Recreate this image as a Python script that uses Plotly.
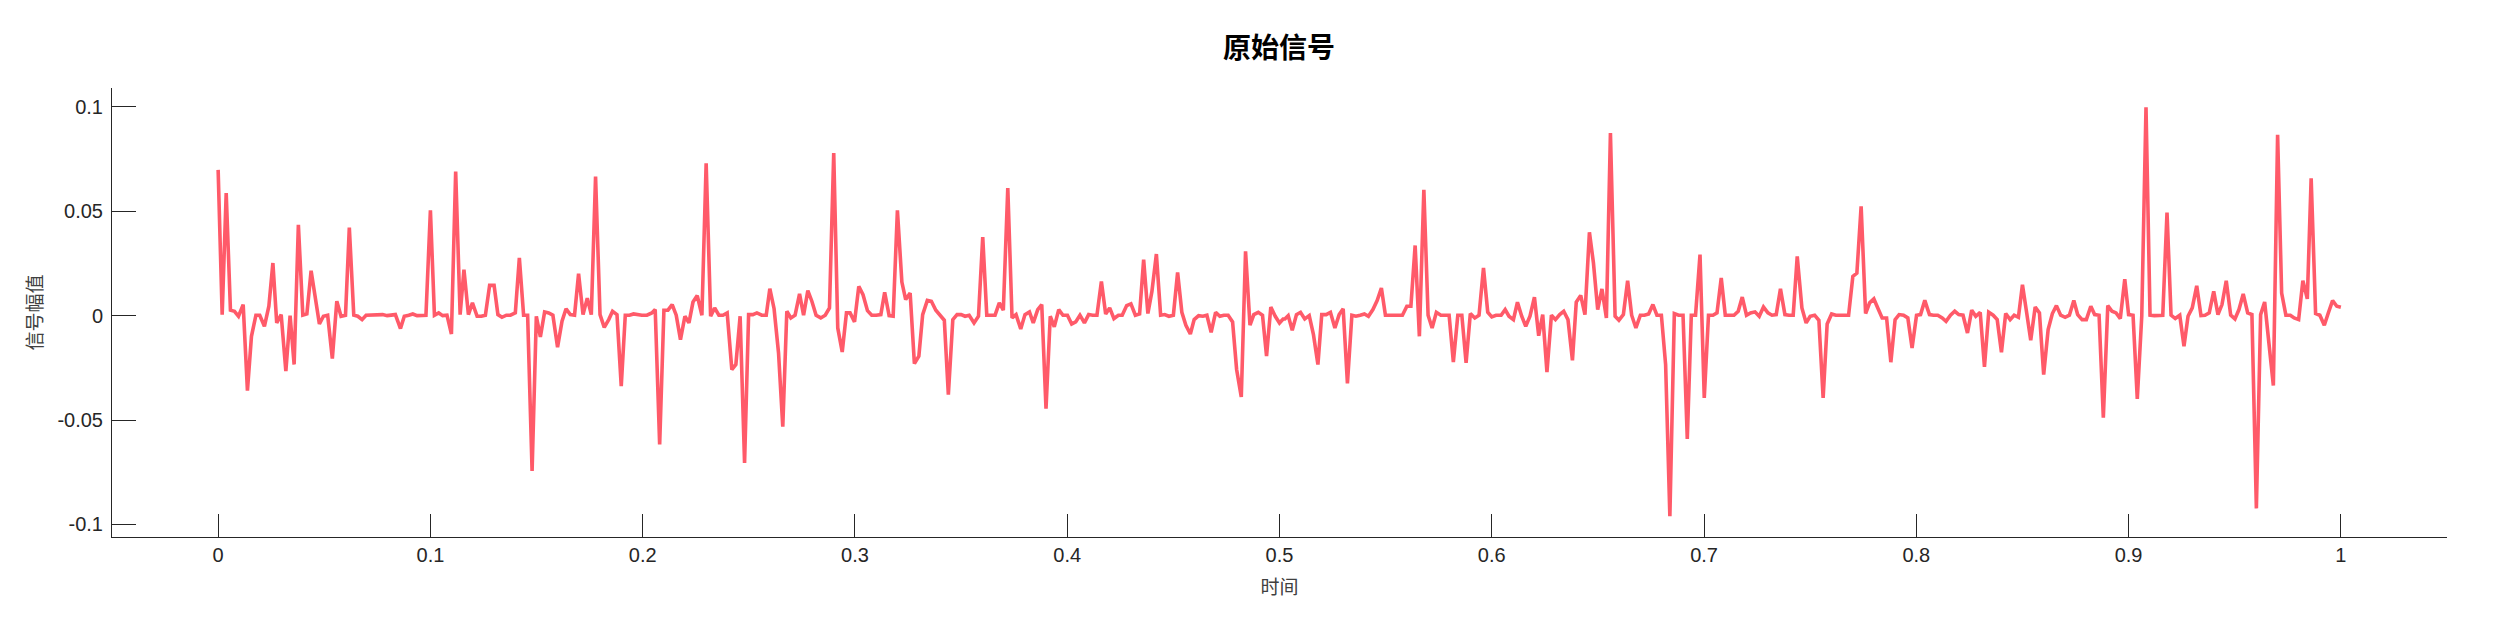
import plotly.graph_objects as go

# ---- data (time, amplitude vertices) ----
time_s = [
    0.0000, 0.0019, 0.0038, 0.0058, 0.0077, 0.0096, 0.0118, 0.0138, 0.0157, 0.0178,
    0.0196, 0.0218, 0.0239, 0.0258, 0.0276, 0.0297, 0.0319, 0.0339, 0.0358, 0.0378,
    0.0399, 0.0418, 0.0438, 0.0457, 0.0477, 0.0496, 0.0516, 0.0538, 0.0559, 0.0579,
    0.0600, 0.0618, 0.0639, 0.0658, 0.0678, 0.0697, 0.0717, 0.0736, 0.0757, 0.0775,
    0.0796, 0.0815, 0.0835, 0.0859, 0.0877, 0.0898, 0.0917, 0.0937, 0.0961,
    0.0979, 0.1000, 0.1019, 0.1039, 0.1058, 0.1078, 0.1099, 0.1119, 0.1140, 0.1158,
    0.1179, 0.1198, 0.1220, 0.1240, 0.1259, 0.1279, 0.1300, 0.1318, 0.1337, 0.1358,
    0.1377, 0.1400, 0.1419, 0.1439, 0.1458, 0.1479, 0.1499, 0.1518, 0.1538, 0.1557,
    0.1577, 0.1599, 0.1620, 0.1639, 0.1659, 0.1679, 0.1698, 0.1719, 0.1739, 0.1758,
    0.1778, 0.1799, 0.1819, 0.1840, 0.1858, 0.1879, 0.1899, 0.1918, 0.1938, 0.1957,
    0.1981,
    0.1996, 0.2020, 0.2043, 0.2059, 0.2080, 0.2100, 0.2119, 0.2139, 0.2158, 0.2178,
    0.2199, 0.2218, 0.2237, 0.2257, 0.2279, 0.2299, 0.2320, 0.2339, 0.2359, 0.2378,
    0.2398, 0.2420, 0.2439, 0.2459, 0.2480, 0.2499, 0.2519, 0.2538, 0.2561, 0.2582,
    0.2599, 0.2619, 0.2640, 0.2660, 0.2679, 0.2698, 0.2718, 0.2739, 0.2758, 0.2778,
    0.2797, 0.2817, 0.2839, 0.2860, 0.2880, 0.2900, 0.2919, 0.2940, 0.2960, 0.2977,
    0.2993,
    0.2998, 0.3018, 0.3038, 0.3059, 0.3079, 0.3100, 0.3122, 0.3140, 0.3161, 0.3180,
    0.3200, 0.3221, 0.3239, 0.3260, 0.3280, 0.3301, 0.3319, 0.3341, 0.3360, 0.3381,
    0.3401, 0.3421, 0.3440, 0.3461, 0.3481, 0.3500, 0.3519, 0.3538, 0.3561, 0.3582,
    0.3602, 0.3621, 0.3641, 0.3660, 0.3680, 0.3699, 0.3720, 0.3740, 0.3759, 0.3781,
    0.3801, 0.3822, 0.3840, 0.3861, 0.3880, 0.3900, 0.3920, 0.3939, 0.3960, 0.3980,
    0.4001,
    0.4021, 0.4040, 0.4060, 0.4081, 0.4101, 0.4120, 0.4140, 0.4161, 0.4181, 0.4200,
    0.4220, 0.4241, 0.4259, 0.4280, 0.4300, 0.4321, 0.4341, 0.4360, 0.4380, 0.4399,
    0.4420, 0.4440, 0.4459, 0.4479, 0.4500, 0.4520, 0.4540, 0.4559, 0.4580, 0.4598,
    0.4619, 0.4639, 0.4658, 0.4678, 0.4699, 0.4719, 0.4738, 0.4758, 0.4779, 0.4798,
    0.4820, 0.4840, 0.4861, 0.4879, 0.4900, 0.4920, 0.4939, 0.4959, 0.4980, 0.5000,
    0.5017,
    0.5025, 0.5041, 0.5060, 0.5080, 0.5099, 0.5119, 0.5140, 0.5160, 0.5181, 0.5199,
    0.5220, 0.5240, 0.5261, 0.5281, 0.5300, 0.5320, 0.5341, 0.5360, 0.5380, 0.5400,
    0.5419, 0.5440, 0.5460, 0.5480, 0.5499, 0.5520, 0.5539, 0.5559, 0.5579, 0.5600,
    0.5619, 0.5639, 0.5659, 0.5680, 0.5700, 0.5719, 0.5739, 0.5760, 0.5779, 0.5799,
    0.5819, 0.5840, 0.5859, 0.5879, 0.5899, 0.5920, 0.5940, 0.5961, 0.5981, 0.6000,
    0.6020,
    0.6044, 0.6063, 0.6081, 0.6102, 0.6121, 0.6141, 0.6160, 0.6180, 0.6201, 0.6221,
    0.6240, 0.6260, 0.6281, 0.6300, 0.6320, 0.6339, 0.6359, 0.6380, 0.6398, 0.6419,
    0.6439, 0.6460, 0.6479, 0.6499, 0.6519, 0.6540, 0.6559, 0.6581, 0.6599, 0.6620,
    0.6640, 0.6659, 0.6679, 0.6700, 0.6719, 0.6739, 0.6759, 0.6778, 0.6799, 0.6819,
    0.6839, 0.6860, 0.6880, 0.6901, 0.6921, 0.6940, 0.6960, 0.6981, 0.7001, 0.7021,
    0.7042,
    0.7061, 0.7081, 0.7100, 0.7120, 0.7141, 0.7161, 0.7180, 0.7200, 0.7219, 0.7240,
    0.7260, 0.7280, 0.7301, 0.7320, 0.7340, 0.7360, 0.7381, 0.7400, 0.7420, 0.7439,
    0.7461, 0.7481, 0.7500, 0.7521, 0.7541, 0.7561, 0.7580, 0.7601, 0.7621, 0.7640,
    0.7660, 0.7681, 0.7701, 0.7720, 0.7740, 0.7761, 0.7780, 0.7800, 0.7820, 0.7839,
    0.7860, 0.7880, 0.7900, 0.7919, 0.7940, 0.7960, 0.7980, 0.8001, 0.8020, 0.8040,
    0.8054,
    0.8062, 0.8081, 0.8101, 0.8122, 0.8140, 0.8161, 0.8181, 0.8200, 0.8220, 0.8241,
    0.8261, 0.8280, 0.8301, 0.8321, 0.8341, 0.8362, 0.8381, 0.8401, 0.8421, 0.8442,
    0.8461, 0.8481, 0.8500, 0.8520, 0.8539, 0.8560, 0.8580, 0.8600, 0.8621, 0.8641,
    0.8660, 0.8680, 0.8701, 0.8721, 0.8742, 0.8760, 0.8781, 0.8801, 0.8822, 0.8840,
    0.8861, 0.8881, 0.8902, 0.8922, 0.8941, 0.8961, 0.8982, 0.9000, 0.9021, 0.9041,
    0.9062, 0.9082, 0.9101, 0.9121, 0.9140, 0.9161, 0.9181, 0.9200, 0.9220, 0.9241,
    0.9261, 0.9280, 0.9300, 0.9321, 0.9341, 0.9360, 0.9380, 0.9401, 0.9421, 0.9440,
    0.9460, 0.9481, 0.9501, 0.9520, 0.9540, 0.9561, 0.9581, 0.9602, 0.9622, 0.9641,
    0.9661, 0.9682, 0.9702, 0.9721, 0.9741, 0.9762, 0.9780, 0.9801, 0.9821, 0.9842,
    0.9860, 0.9881, 0.9901, 0.9922, 0.9940, 0.9961, 0.9981, 1.0000,
]

amplitude = [
    0.0698, 0.0005, 0.0587, 0.0026, 0.0021, -0.0003, 0.0053, -0.0359, -0.0099, 0.0002,
    0.0002, -0.0051, 0.0045, 0.0252, -0.0035, 0.0005, -0.0266, 0.0000, -0.0234, 0.0435,
    0.0002, 0.0008, 0.0215, 0.0092, -0.0040, -0.0003, 0.0002, -0.0206, 0.0069, -0.0003,
    0.0002, 0.0422, 0.0002, -0.0003, -0.0019, 0.0002, 0.0002, 0.0005, 0.0002, 0.0005,
    0.0000, 0.0002, 0.0005, -0.0062, -0.0003, 0.0002, 0.0008, 0.0000, 0.0002,
    0.0002, 0.0504, 0.0002, 0.0013, 0.0000, 0.0002, -0.0088, 0.0690, 0.0005, 0.0220,
    0.0005, 0.0061, -0.0003, -0.0003, 0.0002, 0.0145, 0.0145, 0.0005, -0.0008, 0.0002,
    0.0002, 0.0013, 0.0276, 0.0002, 0.0002, -0.0744, -0.0003, -0.0102, 0.0018, 0.0013,
    0.0002, -0.0151, -0.0027, 0.0033, 0.0005, 0.0002, 0.0201, 0.0005, 0.0084, 0.0005,
    0.0666, 0.0005, -0.0056, -0.0019, 0.0021, 0.0005, -0.0338, 0.0002, 0.0002, 0.0008,
    0.0002,
    0.0002, 0.0002, 0.0013, 0.0029, -0.0617, 0.0026, 0.0026, 0.0053, 0.0002, -0.0115,
    -0.0003, -0.0035, 0.0065, 0.0096, 0.0002, 0.0730, -0.0003, 0.0037, 0.0002, 0.0002,
    0.0013, -0.0258, -0.0234, -0.0003, -0.0705, 0.0005, 0.0005, 0.0013, 0.0002, 0.0002,
    0.0129, 0.0033, -0.0179, -0.0532, 0.0021, -0.0011, 0.0002, 0.0104, 0.0002, 0.0120,
    0.0069, 0.0002, -0.0011, 0.0002, 0.0037, 0.0778, -0.0059, -0.0174, 0.0013, 0.0013,
    -0.0019,
    -0.0030, 0.0140, 0.0100, 0.0024, 0.0002, 0.0002, 0.0005, 0.0112, 0.0000, -0.0003,
    0.0504, 0.0161, 0.0077, 0.0108, -0.0230, -0.0194, 0.0005, 0.0073, 0.0069, 0.0026,
    0.0005, -0.0022, -0.0378, -0.0019, 0.0005, 0.0005, -0.0003, 0.0002, -0.0035, -0.0003,
    0.0376, 0.0002, 0.0002, 0.0002, 0.0061, 0.0026, 0.0611, -0.0011, 0.0005, -0.0064,
    0.0005, 0.0018, -0.0035, 0.0029, 0.0053, -0.0446, -0.0003, -0.0054, 0.0029, 0.0002,
    0.0002,
    -0.0040, -0.0030, 0.0002, -0.0035, 0.0005, 0.0002, 0.0002, 0.0164, 0.0008, 0.0037,
    -0.0014, 0.0002, 0.0002, 0.0048, 0.0056, 0.0002, 0.0008, 0.0268, 0.0010, 0.0116,
    0.0295, 0.0002, 0.0005, -0.0003, 0.0002, 0.0207, 0.0016, -0.0046, -0.0088, -0.0019,
    0.0000, -0.0003, 0.0002, -0.0080, 0.0016, -0.0003, 0.0002, 0.0002, -0.0030, -0.0258,
    -0.0389, 0.0308, -0.0046, 0.0005, 0.0016, 0.0002, -0.0194, 0.0041, -0.0003, -0.0035,
    -0.0016,
    -0.0016, 0.0000, -0.0070, 0.0005, 0.0016, -0.0016, 0.0000, -0.0091, -0.0234, 0.0005,
    0.0005, 0.0016, -0.0059, 0.0005, 0.0033, -0.0325, 0.0002, -0.0003, 0.0002, 0.0008,
    -0.0003, 0.0029, 0.0072, 0.0132, 0.0002, 0.0002, 0.0005, 0.0002, 0.0002, 0.0045,
    0.0045, 0.0336, -0.0099, 0.0603, 0.0002, -0.0059, 0.0016, 0.0002, 0.0002, 0.0002,
    -0.0222, 0.0002, 0.0002, -0.0226, 0.0010, -0.0011, 0.0002, 0.0228, 0.0016, -0.0006,
    0.0002,
    0.0002, 0.0029, -0.0003, -0.0019, 0.0064, -0.0003, -0.0051, -0.0003, 0.0088, -0.0096,
    0.0005, -0.0271, 0.0002, -0.0019, 0.0005, 0.0021, -0.0019, -0.0214, 0.0065, 0.0097,
    0.0005, 0.0399, 0.0252, 0.0029, 0.0128, -0.0011, 0.0874, -0.0003, -0.0022, 0.0005,
    0.0167, 0.0002, -0.0059, 0.0002, 0.0002, 0.0008, 0.0053, 0.0002, 0.0002, -0.0234,
    -0.0960, 0.0010, 0.0002, 0.0002, -0.0590, 0.0002, 0.0002, 0.0292, -0.0394, 0.0002,
    0.0002,
    0.0013, 0.0180, 0.0002, 0.0002, 0.0002, 0.0021, 0.0089, 0.0002, 0.0013, 0.0018,
    -0.0003, 0.0041, 0.0013, 0.0002, 0.0005, 0.0128, 0.0005, 0.0002, 0.0002, 0.0284,
    0.0037, -0.0035, -0.0003, 0.0002, -0.0022, -0.0394, -0.0040, 0.0008, 0.0002, 0.0002,
    0.0002, 0.0002, 0.0188, 0.0204, 0.0523, 0.0010, 0.0061, 0.0080, 0.0033, -0.0011,
    -0.0011, -0.0223, -0.0019, 0.0005, 0.0002, -0.0011, -0.0155, 0.0002, 0.0005, 0.0073,
    0.0029,
    0.0005, 0.0002, 0.0002, -0.0011, -0.0027, 0.0002, 0.0021, 0.0005, 0.0002, -0.0083,
    0.0026, -0.0003, 0.0016, -0.0245, 0.0016, 0.0002, -0.0019, -0.0175, 0.0010, -0.0019,
    0.0002, -0.0008, 0.0148, 0.0013, -0.0118, 0.0041, 0.0013, -0.0282, -0.0067, 0.0010,
    0.0048, 0.0002, -0.0008, 0.0002, 0.0072, 0.0005, -0.0019, -0.0019, 0.0045, 0.0005,
    0.0002, -0.0489, 0.0048, 0.0021, 0.0013, -0.0014, 0.0175, 0.0005, 0.0002, -0.0399,
    -0.0003, 0.0998, 0.0002, 0.0000, 0.0002, 0.0002, 0.0494, 0.0002, -0.0014, 0.0002,
    -0.0147, -0.0003, 0.0037, 0.0143, 0.0000, 0.0002, 0.0013, 0.0116, 0.0005, 0.0053,
    0.0167, 0.0002, -0.0016, 0.0029, 0.0104, 0.0013, 0.0005, -0.0923, 0.0005, 0.0065,
    -0.0131, -0.0335, 0.0866, 0.0108, 0.0002, 0.0002, -0.0011, -0.0019, 0.0167, 0.0080,
    0.0658, 0.0010, 0.0002, -0.0046, 0.0010, 0.0072, 0.0045, 0.0040,
]

x_tick_vals = [0, 0.1, 0.2, 0.3, 0.4, 0.5, 0.6, 0.7, 0.8, 0.9, 1]
x_tick_text = ["0", "0.1", "0.2", "0.3", "0.4", "0.5", "0.6", "0.7", "0.8", "0.9", "1"]
y_tick_vals = [-0.1, -0.05, 0, 0.05, 0.1]
y_tick_text = ["-0.1", "-0.05", "0", "0.05", "0.1"]

title_text = "原始信号"
x_title = "时间"
y_title = "信号幅值"

line_color = "#FF5A69"
axis_color = "#262626"

# the page body adds an 8px offset, so the figure is 8px smaller and margins shifted
W, H = 2492, 617

fig = go.Figure()
fig.add_trace(go.Scatter(
    x=time_s, y=amplitude, mode="lines",
    line=dict(color=line_color, width=3.6),
    showlegend=False, hoverinfo="x+y",
))

fig.update_layout(
    width=W, height=H,
    paper_bgcolor="white", plot_bgcolor="white",
    margin=dict(l=104, r=53, t=80, b=88, autoexpand=False),
    title=dict(
        text="<b>" + title_text + "</b>",
        x=1271 / W, xanchor="center",
        y=1 - 40 / H, yanchor="middle",
        font=dict(family="Noto Sans CJK SC", size=28, color="#000000"),
    ),
    font=dict(family="Liberation Sans, Arial", size=20, color=axis_color),
)

fig.update_xaxes(
    range=[-0.05, 1.05], automargin=False,
    tickmode="array", tickvals=x_tick_vals, ticktext=x_tick_text,
    ticks="inside", ticklen=23, tickwidth=1, tickcolor=axis_color,
    showline=True, linecolor=axis_color, linewidth=1,
    showgrid=False, zeroline=False, mirror=False,
    tickfont=dict(family="Liberation Sans, Arial", size=20, color=axis_color),
    title=dict(text=x_title, standoff=15,
               font=dict(family="Noto Sans CJK SC", size=19, color="#404040")),
)
fig.update_yaxes(
    range=[-0.106, 0.109], automargin=False,
    tickmode="array", tickvals=y_tick_vals, ticktext=y_tick_text,
    ticks="inside", ticklen=24, tickwidth=1, tickcolor=axis_color,
    showline=True, linecolor=axis_color, linewidth=1,
    showgrid=False, zeroline=False, mirror=False,
    ticklabelstandoff=4,
    tickfont=dict(family="Liberation Sans, Arial", size=20, color=axis_color),
    title=dict(text=y_title, standoff=9,
               font=dict(family="Noto Sans CJK SC", size=19, color="#404040")),
)

fig.write_html("out.html")
